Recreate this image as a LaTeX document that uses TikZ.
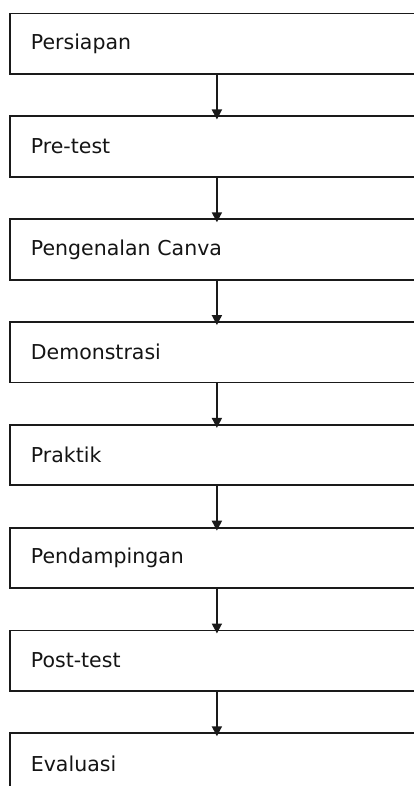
\documentclass[tikz,border=0pt]{standalone}
\usepackage{fontspec}
\setmainfont{DejaVu Sans}
\usetikzlibrary{arrows.meta}
\definecolor{linec}{HTML}{1A1A1A}
\definecolor{textc}{HTML}{141414}
\tikzset{
  stepbox/.style={draw=linec, line width=1.8pt, rectangle, anchor=north west,
    minimum height=60.5pt, text width=372pt, inner xsep=21pt, inner ysep=0pt,
    align=left, font=\fontsize{20.5pt}{24pt}\selectfont, text=textc},
  flow/.style={draw=linec, line width=1.8pt, -{Triangle[width=10pt,length=10pt]}, shorten >=-4pt}
}
\begin{document}
\begin{tikzpicture}[x=1pt,y=-1pt]
\useasboundingbox (0,0) rectangle (414,786);
\clip (0,0) rectangle (414,786);
\node[stepbox] (b1) at (9,12.7) {Persiapan};
\node[stepbox] (b2) at (9,115.5) {Pre-test};
\node[stepbox] (b3) at (9,218.3) {Pengenalan Canva};
\node[stepbox] (b4) at (9,321.1) {Demonstrasi};
\node[stepbox] (b5) at (9,423.9) {Praktik};
\node[stepbox] (b6) at (9,526.7) {Pendampingan};
\node[stepbox] (b7) at (9,629.5) {Post-test};
\node[stepbox] (b8) at (9,732.3) {Evaluasi};
\foreach \a/\b in {b1/b2,b2/b3,b3/b4,b4/b5,b5/b6,b6/b7,b7/b8}
  \draw[flow] (\a.south) -- (\b.north);
\end{tikzpicture}
\end{document}
